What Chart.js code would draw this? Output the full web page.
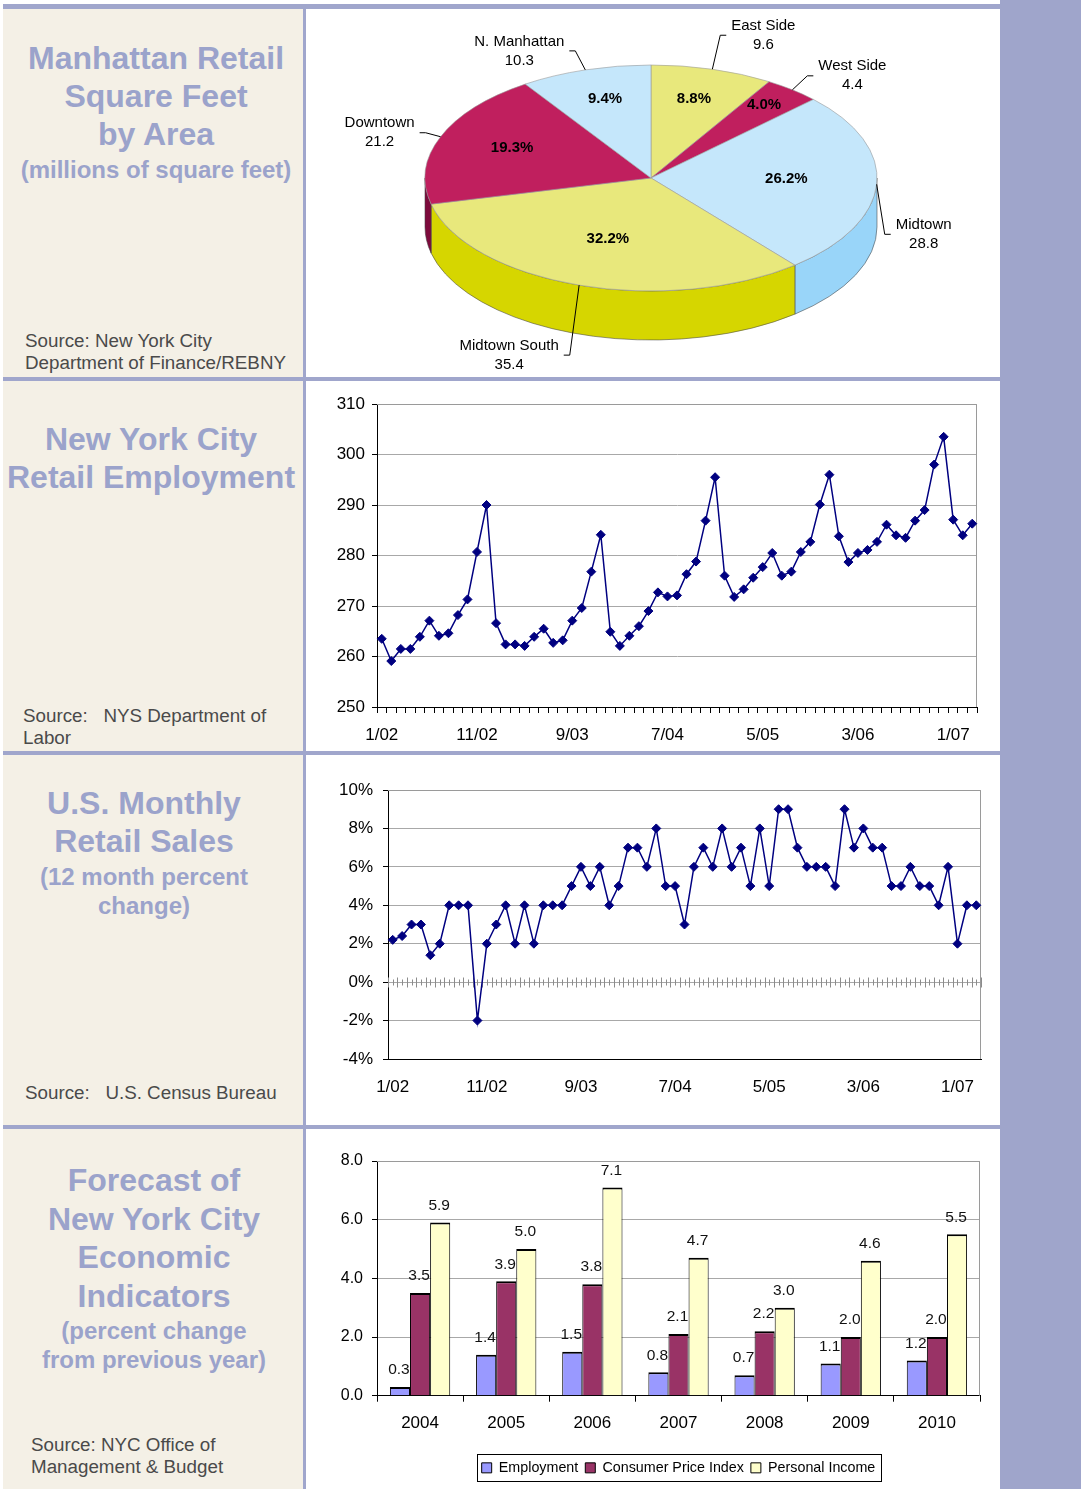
<!DOCTYPE html>
<html>
<head>
<meta charset="utf-8">
<script src="https://cdn.jsdelivr.net/npm/chart.js@4.4.1/dist/chart.umd.min.js"></script>
<style>
  body { margin: 0; width: 1081px; height: 1489px; position: relative; background: #fff; overflow: hidden;
         font-family: "Liberation Sans", Arial, sans-serif; }
  .abs { position: absolute; }
  .band { position: absolute; background: #a0a6cc; }
  .title { position: absolute; width: 400px; text-align: center; color: #9ba3cb; font-weight: bold; white-space: nowrap; }
  .src { position: absolute; color: #4a4a4a; font-size: 18.8px; line-height: 22px; white-space: pre; }
  canvas { position: absolute; }
</style>
</head>
<body>
<div class="abs" style="left:3px;top:9px;width:300px;height:1480px;background:#f4f0e6"></div>
<div class="band" style="left:1000px;top:0;width:81px;height:1489px;background:#9fa5cb"></div>
<div class="band" style="left:3px;top:4px;width:997px;height:5px"></div>
<div class="band" style="left:3px;top:377px;width:997px;height:4px"></div>
<div class="band" style="left:3px;top:751px;width:997px;height:4px"></div>
<div class="band" style="left:3px;top:1125px;width:997px;height:4px"></div>
<div class="band" style="left:303px;top:9px;width:3px;height:1480px"></div>

<div class="title" style="left:-44px;top:39px;font-size:32px;line-height:38px">Manhattan Retail</div>
<div class="title" style="left:-44px;top:77px;font-size:32px;line-height:38px">Square Feet</div>
<div class="title" style="left:-44px;top:115px;font-size:32px;line-height:38px">by Area</div>
<div class="title" style="left:-44px;top:156px;font-size:24px;line-height:28px">(millions of square feet)</div>
<div class="src" style="left:25px;top:330px">Source: New York City
Department of Finance/REBNY</div>

<div class="title" style="left:-49px;top:420px;font-size:32px;line-height:38px">New York City</div>
<div class="title" style="left:-49px;top:458px;font-size:32px;line-height:38px">Retail Employment</div>
<div class="src" style="left:23px;top:705px">Source:   NYS Department of
Labor</div>

<div class="title" style="left:-56px;top:784px;font-size:32px;line-height:38px">U.S. Monthly</div>
<div class="title" style="left:-56px;top:822px;font-size:32px;line-height:38px">Retail Sales</div>
<div class="title" style="left:-56px;top:863px;font-size:24px;line-height:28px">(12 month percent</div>
<div class="title" style="left:-56px;top:892px;font-size:24px;line-height:28px">change)</div>
<div class="src" style="left:25px;top:1082px">Source:   U.S. Census Bureau</div>

<div class="title" style="left:-46px;top:1161px;font-size:32px;line-height:38px">Forecast of</div>
<div class="title" style="left:-46px;top:1200px;font-size:32px;line-height:38px">New York City</div>
<div class="title" style="left:-46px;top:1238px;font-size:32px;line-height:38px">Economic</div>
<div class="title" style="left:-46px;top:1277px;font-size:32px;line-height:38px">Indicators</div>
<div class="title" style="left:-46px;top:1317px;font-size:24px;line-height:28px">(percent change</div>
<div class="title" style="left:-46px;top:1346px;font-size:24px;line-height:28px">from previous year)</div>
<div class="src" style="left:31px;top:1434px">Source: NYC Office of
Management &amp; Budget</div>

<canvas id="chartPie" width="694" height="368" style="left:306px;top:9px"></canvas>
<canvas id="chartEmpleo" width="694" height="370" style="left:306px;top:381px"></canvas>
<canvas id="chartVentas" width="694" height="370" style="left:306px;top:755px"></canvas>
<canvas id="chartPronostico" width="694" height="360" style="left:306px;top:1129px"></canvas>

<script>
// ---- data ----
const areaNames = ['East Side', 'West Side', 'Midtown', 'Midtown South', 'Downtown', 'N. Manhattan'];
const areaSqFt = [9.6, 4.4, 28.8, 35.4, 21.2, 10.3];
const areaShares = [8.8, 4.0, 26.2, 32.2, 19.3, 9.4];

const months = [
  '1/02','2/02','3/02','4/02','5/02','6/02','7/02','8/02','9/02','10/02','11/02','12/02',
  '1/03','2/03','3/03','4/03','5/03','6/03','7/03','8/03','9/03','10/03','11/03','12/03',
  '1/04','2/04','3/04','4/04','5/04','6/04','7/04','8/04','9/04','10/04','11/04','12/04',
  '1/05','2/05','3/05','4/05','5/05','6/05','7/05','8/05','9/05','10/05','11/05','12/05',
  '1/06','2/06','3/06','4/06','5/06','6/06','7/06','8/06','9/06','10/06','11/06','12/06',
  '1/07','2/07','3/07'
];
const retailJobs = [
  263.5, 259.1, 261.5, 261.5, 263.9, 267.1, 264.1, 264.6, 268.2, 271.3,
  280.7, 290.0, 266.6, 262.4, 262.4, 262.1, 263.9, 265.5, 262.7, 263.2,
  267.1, 269.6, 276.8, 284.1, 264.9, 262.1, 264.1, 266.0, 269.0, 272.7,
  271.9, 272.1, 276.3, 278.8, 286.9, 295.5, 276.0, 271.8, 273.3, 275.6,
  277.7, 280.5, 276.0, 276.8, 280.7, 282.7, 290.1, 296.0, 283.8, 278.7,
  280.5, 281.1, 282.7, 286.1, 284.0, 283.5, 286.9, 289.0, 298.0, 303.5,
  287.1, 284.0, 286.3
];
const salesChange = [
  2.2, 2.4, 3, 3, 1.4, 2, 4, 4, 4, -2,
  2, 3, 4, 2, 4, 2, 4, 4, 4, 5,
  6, 5, 6, 4, 5, 7, 7, 6, 8, 5,
  5, 3, 6, 7, 6, 8, 6, 7, 5, 8,
  5, 9, 9, 7, 6, 6, 6, 5, 9, 7,
  8, 7, 7, 5, 5, 6, 5, 5, 4, 6,
  2, 4, 4
];

const years = ['2004', '2005', '2006', '2007', '2008', '2009', '2010'];
const employment = [0.3, 1.4, 1.5, 0.8, 0.7, 1.1, 1.2];
const cpi = [3.5, 3.9, 3.8, 2.1, 2.2, 2.0, 2.0];
const personalIncome = [5.9, 5.0, 7.1, 4.7, 3.0, 4.6, 5.5];

// ---- shared ----
const FONT = '"Liberation Sans", Arial, sans-serif';
Chart.defaults.font.family = FONT;
Chart.defaults.color = '#000';
Chart.defaults.animation = false;

// grey top/right frame of the plot area
const marco = {
  id: 'marco',
  beforeDatasetsDraw(chart) {
    const { ctx, chartArea: a } = chart;
    ctx.save();
    ctx.strokeStyle = '#9a9a9a';
    ctx.lineWidth = 1;
    ctx.beginPath();
    ctx.moveTo(a.left, a.top + 0.5);
    ctx.lineTo(a.right - 0.5, a.top + 0.5);
    ctx.lineTo(a.right - 0.5, a.bottom);
    ctx.stroke();
    ctx.restore();
  }
};

// ---- pie (3D look) ----
const TILT = 0.5, DEPTH = 49;
const topColors = ['#e8e87c', '#c01f5e', '#c5e7fb', '#e8e87c', '#c01f5e', '#c5e7fb'];
const sideColors = ['#d6d600', '#7d0a3c', '#99d5f9', '#d6d600', '#7d0a3c', '#99d5f9'];
const labelOffsets = [[51, -34], [60, -14], [47, 50], [-70, 70], [-61, -4], [-66, -19]];

const pie3d = {
  id: 'pie3d',
  beforeDatasetsDraw(chart) {
    const ctx = chart.ctx;
    const arcs = chart.getDatasetMeta(0).data;
    const { x, y, outerRadius: R } = arcs[0];
    const r = R * TILT;
    arcs.forEach((a, i) => {
      const s = Math.max(a.startAngle, 0), e = Math.min(a.endAngle, Math.PI);
      if (e <= s) return;
      ctx.beginPath();
      ctx.ellipse(x, y, R, r, 0, s, e);
      ctx.ellipse(x, y + DEPTH, R, r, 0, e, s, true);
      ctx.closePath();
      ctx.fillStyle = sideColors[i];
      ctx.fill();
      ctx.strokeStyle = 'rgba(70,70,70,0.8)';
      ctx.lineWidth = 0.7;
      ctx.stroke();
    });
    ctx.save();
    ctx.translate(x, y);
    ctx.scale(1, TILT);
    ctx.translate(-x, -y);
  },
  afterDatasetsDraw(chart) {
    const ctx = chart.ctx;
    ctx.restore();
    const arcs = chart.getDatasetMeta(0).data;
    const { x, y, outerRadius: R } = arcs[0];
    const r = R * TILT;
    ctx.save();
    ctx.fillStyle = '#000';
    ctx.textAlign = 'center';
    ctx.textBaseline = 'middle';
    arcs.forEach((a, i) => {
      const m = (a.startAngle + a.endAngle) / 2;
      const f = areaShares[i] < 5 ? 0.8 : areaShares[i] < 10 ? 0.7 : areaShares[i] < 25 ? 0.66 : 0.6;
      ctx.font = 'bold 15px ' + FONT;
      ctx.fillText(areaShares[i].toFixed(1) + '%', x + R * f * Math.cos(m), y + r * f * Math.sin(m) - 3);

      // outside labels with leader lines
      const ax = x + R * Math.cos(m), ay = y + r * Math.sin(m);
      const lx = ax + labelOffsets[i][0], ly = ay + labelOffsets[i][1];
      ctx.font = '15px ' + FONT;
      const t1 = areaNames[i], t2 = areaSqFt[i].toFixed(1);
      ctx.fillText(t1, lx, ly - 9.5);
      ctx.fillText(t2, lx, ly + 9.5);
      const halfW = Math.max(ctx.measureText(t1).width, ctx.measureText(t2).width) / 2;
      const side = labelOffsets[i][0] > 0 ? 1 : -1;
      const edge = lx - side * halfW;
      ctx.strokeStyle = '#000';
      ctx.lineWidth = 1;
      ctx.beginPath();
      ctx.moveTo(ax, ay);
      ctx.lineTo(edge - side * 11, ly);
      ctx.lineTo(edge - side * 5, ly);
      ctx.stroke();
    });
    ctx.restore();
  }
};

new Chart(document.getElementById('chartPie'), {
  type: 'pie',
  data: {
    labels: areaNames,
    datasets: [{
      data: areaSqFt,
      backgroundColor: topColors,
      borderColor: '#9a9a9a',
      borderWidth: 0.8,
      clip: false
    }]
  },
  options: {
    responsive: false,
    radius: 226,
    layout: { padding: { right: 4, bottom: 30 } },
    plugins: { legend: { display: false }, tooltip: { enabled: false } }
  },
  plugins: [pie3d]
});

// ---- retail employment ----
new Chart(document.getElementById('chartEmpleo'), {
  type: 'line',
  data: {
    labels: months,
    datasets: [{
      data: retailJobs,
      borderColor: '#000080',
      backgroundColor: '#000080',
      borderWidth: 1.5,
      pointStyle: 'rectRot',
      pointRadius: 4.5,
      pointBorderWidth: 1,
      tension: 0
    }]
  },
  options: {
    responsive: false,
    layout: { padding: { top: 23, right: 23 } },
    plugins: { legend: { display: false }, tooltip: { enabled: false } },
    scales: {
      x: {
        offset: true,
        grid: { offset: true, drawOnChartArea: false, tickLength: 6, color: '#000' },
        border: { color: '#000' },
        ticks: {
          autoSkip: false, maxRotation: 0, padding: 12, font: { size: 17 },
          callback: (v, i) => (i % 10 === 0 ? months[i] : '')
        },
        afterFit: s => { s.height = 44; }
      },
      y: {
        min: 250, max: 310,
        ticks: { stepSize: 10, padding: 7, font: { size: 17 } },
        grid: { color: '#a8a8a8', tickColor: '#000', tickLength: 5 },
        border: { color: '#000' },
        afterFit: s => { s.width = 71; }
      }
    }
  },
  plugins: [marco]
});

// ---- US retail sales ----
const zeroTicks = {
  id: 'zeroTicks',
  beforeDatasetsDraw(chart) {
    const { ctx, scales: { x, y } } = chart;
    const y0 = Math.round(y.getPixelForValue(0)) + 0.5;
    const half = (x.getPixelForValue(1) - x.getPixelForValue(0)) / 2;
    ctx.save();
    ctx.strokeStyle = '#8c8c8c';
    ctx.lineWidth = 1;
    ctx.beginPath();
    for (let i = 0; i <= months.length; i++) {
      const xb = Math.round(x.getPixelForValue(i) - half) + 0.5;
      ctx.moveTo(xb, y0 - 5); ctx.lineTo(xb, y0 + 5);
      if (i < months.length) {
        const xc = Math.round(x.getPixelForValue(i)) + 0.5;
        ctx.moveTo(xc, y0 - 3); ctx.lineTo(xc, y0 + 3);
      }
    }
    ctx.stroke();
    ctx.restore();
  }
};

new Chart(document.getElementById('chartVentas'), {
  type: 'line',
  data: {
    labels: months,
    datasets: [{
      data: salesChange,
      borderColor: '#000080',
      backgroundColor: '#000080',
      borderWidth: 1.5,
      pointStyle: 'rectRot',
      pointRadius: 4.5,
      pointBorderWidth: 1,
      tension: 0
    }]
  },
  options: {
    responsive: false,
    layout: { padding: { top: 35, right: 19 } },
    plugins: { legend: { display: false }, tooltip: { enabled: false } },
    scales: {
      x: {
        offset: true,
        grid: { offset: true, drawOnChartArea: false, drawTicks: false },
        border: { color: '#000' },
        ticks: {
          autoSkip: false, maxRotation: 0, padding: 18, font: { size: 17 },
          callback: (v, i) => (i % 10 === 0 ? months[i] : '')
        },
        afterFit: s => { s.height = 66; }
      },
      y: {
        min: -4, max: 10,
        ticks: { stepSize: 2, padding: 10, font: { size: 17 }, callback: v => v + '%' },
        grid: { color: '#a8a8a8', tickColor: '#000', tickLength: 5 },
        border: { color: '#000' },
        afterFit: s => { s.width = 82; }
      }
    }
  },
  plugins: [marco, zeroTicks]
});

// ---- forecast bars ----
const barLabels = {
  id: 'barLabels',
  afterDatasetsDraw(chart) {
    const ctx = chart.ctx;
    ctx.save();
    ctx.font = '15.5px ' + FONT;
    ctx.fillStyle = '#111';
    ctx.textAlign = 'center';
    ctx.textBaseline = 'middle';
    chart.data.datasets.forEach((ds, d) => {
      chart.getDatasetMeta(d).data.forEach((bar, i) => {
        ctx.fillText(ds.data[i].toFixed(1), bar.x - 1, bar.y - 17);
      });
    });
    ctx.restore();
  },
  afterDraw(chart) {
    const boxes = chart.legend.legendHitBoxes;
    if (!boxes || !boxes.length) return;
    const l = Math.min(...boxes.map(b => b.left)) - 5;
    const r = Math.max(...boxes.map(b => b.left + b.width)) + 5;
    const t = boxes[0].top - 7;
    const b = boxes[0].top + boxes[0].height + 6;
    const ctx = chart.ctx;
    ctx.save();
    ctx.strokeStyle = '#000';
    ctx.lineWidth = 1;
    ctx.strokeRect(Math.round(l) + 0.5, Math.round(t) + 0.5, Math.round(r - l), Math.round(b - t));
    ctx.restore();
  }
};

new Chart(document.getElementById('chartPronostico'), {
  type: 'bar',
  data: {
    labels: years,
    datasets: [
      { label: 'Employment', data: employment, backgroundColor: '#9999ff' },
      { label: 'Consumer Price Index', data: cpi, backgroundColor: '#993366' },
      { label: 'Personal Income', data: personalIncome, backgroundColor: '#ffffcc' }
    ].map(ds => Object.assign(ds, {
      borderColor: '#000',
      borderWidth: { top: 2, left: 1, right: 1, bottom: 0 },
      borderSkipped: false,
      categoryPercentage: 0.7,
      barPercentage: 1.0
    }))
  },
  options: {
    responsive: false,
    layout: { padding: { top: 32, right: 20, bottom: 4 } },
    plugins: {
      tooltip: { enabled: false },
      legend: {
        position: 'bottom',
        fullSize: false,
        labels: {
          font: { size: 14.3 }, boxWidth: 10, boxHeight: 10, padding: 7,
          generateLabels: chart => chart.data.datasets.map((ds, i) => ({
            text: ds.label, fillStyle: ds.backgroundColor, strokeStyle: '#000',
            lineWidth: 1, hidden: false, datasetIndex: i
          }))
        }
      }
    },
    scales: {
      x: {
        grid: { offset: true, drawOnChartArea: false, tickLength: 6, color: '#000' },
        border: { color: '#000' },
        ticks: { padding: 11, font: { size: 17 } },
        afterFit: s => { s.height = 58; }
      },
      y: {
        min: 0, max: 8,
        ticks: { stepSize: 2, padding: 9, font: { size: 16 }, callback: v => v.toFixed(1) },
        grid: { color: '#a8a8a8', tickColor: '#000', tickLength: 5 },
        border: { color: '#000' },
        afterFit: s => { s.width = 71; }
      }
    }
  },
  plugins: [marco, barLabels]
});
</script>
</body>
</html>
